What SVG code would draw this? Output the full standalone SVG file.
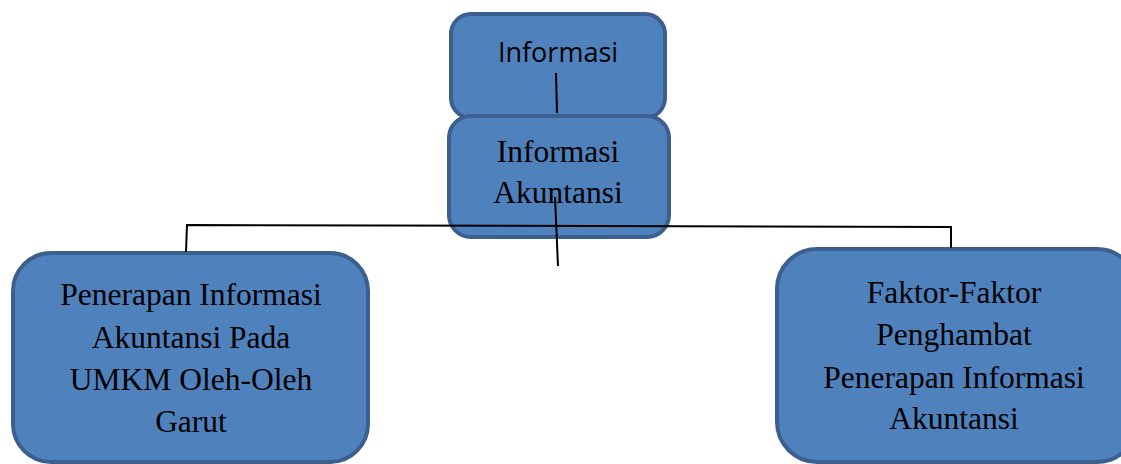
<svg xmlns="http://www.w3.org/2000/svg" width="1121" height="464" viewBox="0 0 1121 464">
<style>
.box{fill:#4F81BD;stroke:#3B5F8E;stroke-width:4}
.sans{font-family:"Open Sans","Liberation Sans",sans-serif;font-size:27px;fill:#000;text-anchor:middle}
.serif{font-family:"Liberation Serif","Times New Roman",serif;font-size:31.5px;fill:#000;text-anchor:middle}
.ln{stroke:#000;stroke-width:2;fill:none}
</style>
<rect width="1121" height="464" fill="#fff"/>
<g id="node-informasi">
<rect class="box" x="451" y="14" width="214" height="104" rx="20"/>
<text class="sans" x="558" y="62">Informasi</text>
</g>
<g id="node-informasi-akuntansi">
<rect class="box" x="449" y="116" width="220" height="121" rx="22"/>
<text class="serif" x="558" y="162">Informasi</text>
<text class="serif" x="558" y="203">Akuntansi</text>
</g>
<g id="node-penerapan">
<rect class="box" x="13" y="253" width="355" height="209" rx="38"/>
<text class="serif" x="191" y="305">Penerapan Informasi</text>
<text class="serif" x="191" y="348">Akuntansi Pada</text>
<text class="serif" x="191" y="390">UMKM Oleh-Oleh</text>
<text class="serif" x="191" y="432">Garut</text>
</g>
<g id="node-faktor">
<rect class="box" x="777" y="249" width="360" height="213" rx="40"/>
<text class="serif" x="954" y="303">Faktor-Faktor</text>
<text class="serif" x="954" y="345">Penghambat</text>
<text class="serif" x="954" y="388">Penerapan Informasi</text>
<text class="serif" x="954" y="429">Akuntansi</text>
</g>
<g id="connectors">
<line class="ln" x1="556" y1="73" x2="557" y2="113"/>
<line class="ln" x1="555" y1="197" x2="558" y2="266"/>
<polyline class="ln" points="186,252 187,225 951,227 951,248"/>
</g>
</svg>
